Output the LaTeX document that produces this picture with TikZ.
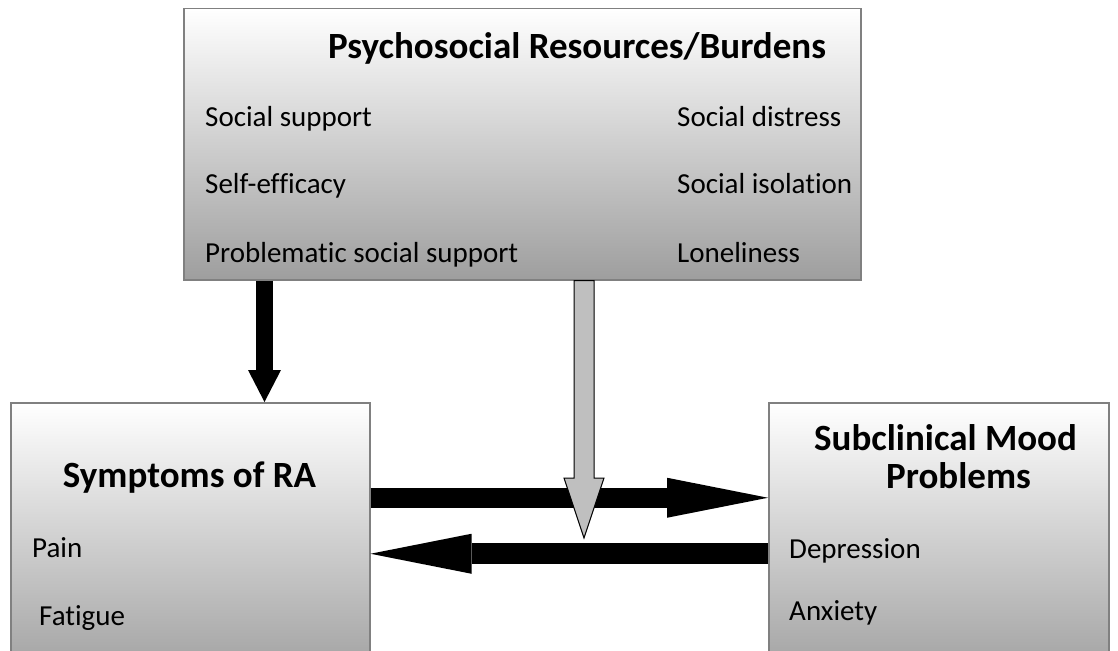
\documentclass[tikz,border=0pt]{standalone}
\usepackage{fontspec}
\setmainfont{Carlito}[Ligatures=CommonOff]
\usetikzlibrary{arrows.meta,calc}

\tikzset{
  panel/.style={draw=black!50, line width=1.5pt, top color=white, bottom color=black!38, anchor=north west},
  heading/.style={font=\fontsize{37}{38}\selectfont\bfseries, anchor=base, inner sep=0pt},
  item/.style={font=\fontsize{29}{32}\selectfont, anchor=base west, inner sep=0pt},
  blockarrow/.style={line width=#1, -{Triangle[length=101pt,width=40pt,line width=0pt]}},
  blockarrow/.default=20pt
}

\begin{document}
\begin{tikzpicture}[x=1pt,y=-1pt]
  \useasboundingbox (0,0) rectangle (1118,650);
  \clip (0,0) rectangle (1118,650);

  % boxes
  \node[panel, minimum width=677pt, minimum height=271pt] (psy) at (183,8) {};
  \node[panel, minimum width=359pt, minimum height=280pt] (sym) at (10,402) {};
  \node[panel, minimum width=340pt, minimum height=280pt] (mood) at (768,402) {};

  % texts
  \node[heading] (psytitle) at (577,59) {Psychosocial Resources/Burdens};
  \node[item] (ss) at (205,126) {Social support};
  \node[item] (se) at (205,193) {Self-efficacy};
  \node[item] (pss) at (205,262) {Problematic social support};
  \node[item] (sd) at (677,126) {Social distress};
  \node[item] (si) at (677,193) {Social isolation};
  \node[item] (lo) at (677,262) {Loneliness};

  \node[heading] (symtitle) at (189.5,487) {Symptoms of RA};
  \node[item] (pain) at (32,557) {Pain};
  \node[item] (fat) at (39,625) {Fatigue};

  \node[heading] (moodtitle) at (945.5,450) {Subclinical Mood};
  \node[heading] (moodtitle2) at (958.5,488) {Problems};
  \node[item] (dep) at (789,558) {Depression};
  \node[item] (anx) at (789,620) {Anxiety};

  % connectors
  \coordinate (d0) at ([xshift=81.5pt]psy.south west);
  \draw[line width=17pt, -{Triangle[length=32pt,width=33pt,line width=0pt]}] (d0) -- (d0 |- sym.north);

  \draw[blockarrow] ([yshift=45pt]sym.east) -- ([yshift=45pt]sym.east -| mood.west);

  % moderating arrow
  \coordinate (g0) at (psy.south -| 584,0);
  \coordinate (g1) at (584,538);
  \draw[fill=black!25, line width=1pt]
    ($(g0)+(-10,0)$) -- ($(g1)+(-10,-60)$) -- ($(g1)+(-20,-60)$) -- (g1)
    -- ($(g1)+(20,-60)$) -- ($(g1)+(10,-60)$) -- ($(g0)+(10,0)$) -- cycle;

  \draw[blockarrow=21pt] ([yshift=-11pt]mood.west) -- ([yshift=-11pt]mood.west -| sym.east);
\end{tikzpicture}
\end{document}
